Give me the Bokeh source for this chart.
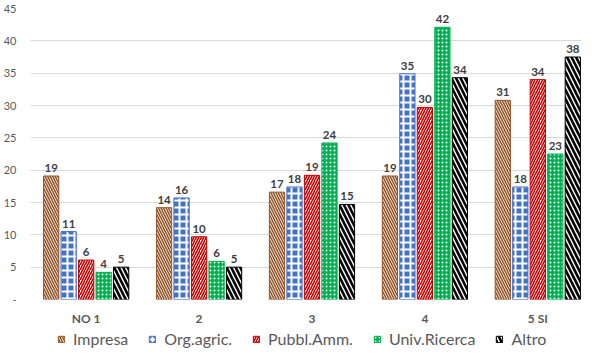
import numpy as np
from bokeh.plotting import figure
from bokeh.layouts import column
from bokeh.models import (ColumnDataSource, Range1d, FixedTicker, Legend, LegendItem)
from bokeh.core.properties import value
from bokeh.embed import file_html
from bokeh.resources import INLINE

# ---------------- data ----------------
categories = ["NO 1", "2", "3", "4", "5 SI"]
series = ["Impresa", "Org.agric.", "Pubbl.Amm.", "Univ.Ricerca", "Altro"]

impresa = [19.1, 14.2, 16.6, 19.1, 30.8]
org_agric = [10.5, 15.7, 17.4, 34.9, 17.4]
pubbl_amm = [6.1, 9.7, 19.2, 29.7, 34.0]
univ_ricerca = [4.2, 5.9, 24.2, 42.1, 22.5]
altro = [5.0, 5.0, 14.7, 34.3, 37.5]

impresa_lbl = ["19", "14", "17", "19", "31"]
org_agric_lbl = ["11", "16", "18", "35", "18"]
pubbl_amm_lbl = ["6", "10", "19", "30", "34"]
univ_ricerca_lbl = ["4", "6", "24", "42", "23"]
altro_lbl = ["5", "5", "15", "34", "38"]

y_ticks = [0, 5, 10, 15, 20, 25, 30, 35, 40, 45]
y_tick_labels = ["-", "5", "10", "15", "20", "25", "30", "35", "40", "45"]

values_all = [impresa, org_agric, pubbl_amm, univ_ricerca, altro]
labels_all = [impresa_lbl, org_agric_lbl, pubbl_amm_lbl, univ_ricerca_lbl, altro_lbl]

# ---------------- styles ----------------
FONT = "Lato"

styles = [
    dict(fill_color="white", line_color="#94562a", hatch_pattern="\\", hatch_color="#94562a",
         hatch_scale=5, hatch_weight=1.6),
    dict(fill_color="#4472c4", line_color="#4472c4", hatch_pattern="+", hatch_color="white",
         hatch_scale=7, hatch_weight=2),
    dict(fill_color="white", line_color="#c00000", hatch_pattern="/", hatch_color="#c00000",
         hatch_scale=5, hatch_weight=1.6),
    dict(fill_color="#00b050", line_color="#00b050", hatch_pattern=".", hatch_color="white",
         hatch_scale=4, hatch_weight=1),
    dict(fill_color="white", line_color="#000000", hatch_pattern="\\", hatch_color="#000000",
         hatch_scale=9, hatch_weight=2.6),
]

p = figure(width=581, height=328, output_backend="svg", toolbar_location=None,
           x_range=Range1d(0.007, 4.887), y_range=Range1d(0, 45),
           min_border_left=0, min_border_right=0, min_border_top=8, min_border_bottom=27)
p.outline_line_color = None
p.background_fill_color = "white"
p.border_fill_color = "white"

# legend strip (own figure so the legend is not clipped by the plot frame)
lg = figure(width=581, height=20, output_backend="svg", toolbar_location=None,
            x_range=p.x_range, y_range=p.y_range, x_axis_location=None, y_axis_location=None,
            min_border_left=0, min_border_right=0, min_border_top=0, min_border_bottom=0)
lg.outline_line_color = None
lg.xgrid.grid_line_color = None
lg.ygrid.grid_line_color = None

pitch = 0.155
bar_w = 0.135
base_x = np.arange(len(categories)) + 0.5

items = []
for j, (name, vals, lbls, st) in enumerate(zip(series, values_all, labels_all, styles)):
    src = ColumnDataSource(dict(x=base_x + (j - 2) * pitch, top=vals, lbl=lbls))
    p.vbar(x="x", top="top", width=bar_w, source=src, line_width=1, **st)
    p.text(x="x", y="top", text="lbl", source=src, text_align="center",
           text_baseline="bottom", y_offset=-4, text_font=value(FONT),
           text_font_size="11.5px", text_font_style="bold", text_color="#404040")
    lr = lg.vbar(x="x", top="top", width=bar_w, source=src, line_width=1, visible=False, **st)
    items.append(LegendItem(label=name, renderers=[lr]))

# axes
p.yaxis.ticker = FixedTicker(ticks=y_ticks)
p.yaxis.major_label_overrides = {t: l for t, l in zip(y_ticks, y_tick_labels)}
p.yaxis.axis_line_color = None
p.yaxis.major_tick_line_color = None
p.yaxis.minor_tick_line_color = None
p.yaxis.major_label_text_font = FONT
p.yaxis.major_label_text_font_size = "11px"
p.yaxis.major_label_text_color = "#595959"
p.yaxis.major_label_standoff = 8

p.xaxis.ticker = FixedTicker(ticks=list(base_x))
p.xaxis.major_label_overrides = {float(x): c for x, c in zip(base_x, categories)}
p.xaxis.axis_line_color = None
p.xaxis.major_tick_line_color = None
p.xaxis.minor_tick_line_color = None
p.xaxis.major_label_text_font = FONT
p.xaxis.major_label_text_font_size = "12px"
p.xaxis.major_label_text_font_style = "bold"
p.xaxis.major_label_text_color = "#595959"
p.xaxis.major_label_standoff = 5

p.xgrid.grid_line_color = None
p.ygrid.grid_line_color = "#d9d9d9"
p.ygrid.grid_line_width = 1

legend = Legend(items=items, orientation="horizontal", location=(27, 0),
                label_text_font=FONT, label_text_font_size="16px", label_text_color="#595959",
                glyph_width=8, glyph_height=8, label_standoff=8, spacing=20,
                border_line_color=None, background_fill_alpha=0,
                inactive_fill_alpha=0, padding=0, margin=0)
lg.add_layout(legend, "center")

layout = column(p, lg, spacing=0)
open("out.html", "w").write(file_html(layout, INLINE))
